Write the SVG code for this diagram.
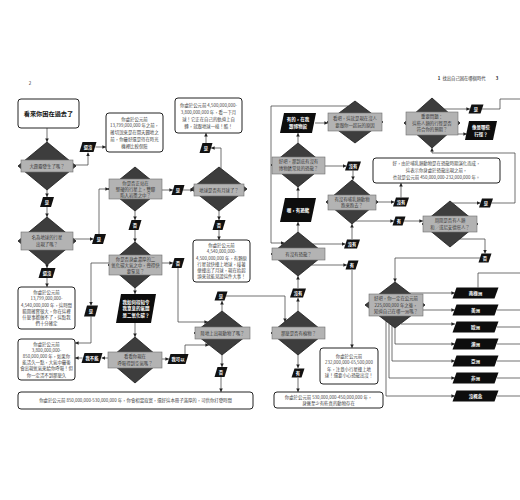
<svg xmlns="http://www.w3.org/2000/svg" width="520" height="500" viewBox="0 0 520 500">
<defs>
<marker id="ah" viewBox="0 0 10 10" refX="10" refY="5" markerWidth="3.6" markerHeight="3.6" markerUnits="userSpaceOnUse" orient="auto"><path d="M0,0 L10,5 L0,10 z" fill="#222"/></marker>
<style>
text{font-family:"Noto Sans CJK TC","Noto Sans CJK SC",sans-serif;text-anchor:middle}
.box{fill:#fff;stroke:#222;stroke-width:1}
.bt{font-size:4.4px;fill:#444}
.dia{fill:#3d3d3d;stroke:#1a1a1a;stroke-width:0.8}
.lab{fill:#b3b3b3;stroke:#6e6e6e;stroke-width:0.6}
.lt{font-size:4.4px;fill:#3a3a3a}
.tag{fill:#111}
.tt{font-size:4.3px;fill:#fff;font-weight:bold}
.par{fill:#0d0d0d}
.pt{font-size:4.5px;fill:#fff;font-weight:bold}
.ln{fill:none;stroke:#333;stroke-width:0.7;marker-end:url(#ah)}
.pl{fill:none;stroke:#333;stroke-width:0.7}
</style>
</defs>
<rect width="520" height="500" fill="#fff"/>
<text x="30" y="85" style="font-size:4.5px;fill:#333">2</text>
<text x="439" y="80" style="font-size:4.3px;fill:#222;font-weight:bold">1</text>
<text x="464" y="80" style="font-size:4.3px;fill:#333">找出自己困在哪個時代</text>
<text x="497" y="80" style="font-size:4.3px;fill:#222;font-weight:bold">3</text>

<g id="connectors">
<path class="ln" d="M47,128 V142"/>
<path class="ln" d="M73,165 H88 V152.5"/>
<path class="ln" d="M95.5,147 H106"/>
<path class="ln" d="M47,190 V197"/>
<path class="ln" d="M47,207 V217"/>
<path class="ln" d="M73,239 H93.5"/>
<path class="ln" d="M99,234 V189 H109"/>
<path class="ln" d="M47,265 V268"/>
<path class="ln" d="M47,278 V287"/>
<path class="ln" d="M162,190 H173"/>
<path class="ln" d="M183,190 H194"/>
<path class="ln" d="M221,168.6 V148 H211"/>
<path class="ln" d="M206,143 V133"/>
<path class="ln" d="M219,211 V220"/>
<path class="ln" d="M219,230 V240"/>
<path class="ln" d="M135,211 V220"/>
<path class="ln" d="M135,230 V242"/>
<path class="ln" d="M109,263 H91 V305.5"/>
<path class="ln" d="M91,316.5 V343 H75"/>
<path class="ln" d="M162,263 H173"/>
<path class="ln" d="M178,268 V322 H208"/>
<path class="ln" d="M135,288 V294"/>
<path class="ln" d="M135,323 V337"/>
<path class="ln" d="M108,358 H101.5"/>
<path class="ln" d="M82.5,358 H75"/>
<path class="ln" d="M162,359 H169"/>
<path class="ln" d="M185,354 V345 H209"/>
<path class="ln" d="M222,311 V301"/>
<path class="ln" d="M226,296 H285 V322"/>
<path class="ln" d="M222,355 V367"/>
<path class="ln" d="M221,377 V392"/>
<path class="ln" d="M348,106 H271 V243 H284.5"/>
<path class="ln" d="M315,123 H328"/>
<path class="ln" d="M298,143 V133"/>
<path class="ln" d="M325,166 H346.5"/>
<path class="ln" d="M353,170.5 V180"/>
<path class="ln" d="M298,232 V222"/>
<path class="ln" d="M298,198 V187"/>
<path class="ln" d="M312.7,244 H345.5"/>
<path class="ln" d="M352,239 V224"/>
<path class="ln" d="M311.5,265 H347"/>
<path class="ln" d="M352,270 V348"/>
<path class="ln" d="M298,311 V298"/>
<path class="ln" d="M298,288 V276"/>
<path class="ln" d="M298,355 V368"/>
<path class="ln" d="M298,378 V392"/>
<path class="ln" d="M376,202 H394.5"/>
<path class="ln" d="M401,197.5 V183"/>
<path class="ln" d="M355.5,221 H394"/>
<path class="ln" d="M404,221 H423"/>
<path class="ln" d="M452.4,203 H480.5"/>
<path class="ln" d="M491.5,203 H515 V153 H432 V148"/>
<path class="ln" d="M444.3,109 H470"/>
<path class="pl" d="M482,109 H500 V99 H520"/>
<path class="ln" d="M447.7,134 H467"/>
<path class="ln" d="M459.7,239 H485 V253.5"/>
<path class="ln" d="M480,258 H395 V282"/>
<path class="ln" d="M409.3,293 H455"/>
<path class="ln" d="M423,310 H455"/>
<path class="ln" d="M401,324 H455"/>
<path class="ln" d="M395,328 V344 H455"/>
<path class="ln" d="M392,325.7 V361 H455"/>
<path class="ln" d="M389,323.4 V378 H455"/>
<path class="ln" d="M386,321.1 V396 H455"/>
<path class="pl" d="M478,287.5 V273 H520"/>
<path class="pl" d="M497,310 H520"/>
<path class="pl" d="M497,327 H520"/>
<path class="pl" d="M497,344 H520"/>
<path class="pl" d="M497,361 H520"/>
<path class="pl" d="M497,378 H520"/>
<path class="pl" d="M497,396 H520"/>
</g>

<g id="title"><rect class="box" x="18" y="99" width="61" height="29" rx="3"/><text x="48.5" y="115.5" style="font-size:6.2px;font-weight:bold;fill:#111">看來你困在過去了</text></g>

<g id="d1"><polygon class="dia" points="47,142 76,166 47,190 18,166"/><rect class="lab" x="21" y="160" width="52" height="12"/><text class="lt" x="47" y="167.6">大霹靂發生了嗎？</text></g>
<g id="d2"><polygon class="dia" points="47,217 76,241 47,265 18,241"/><rect class="lab" x="21" y="232" width="52" height="18"/><text class="lt" x="47" y="239.3">名為地球的行星</text><text class="lt" x="47" y="245.8">出現了嗎？</text></g>
<g id="d3"><polygon class="dia" points="135,167 162,189 135,211 108,189"/><rect class="lab" x="109" y="179" width="53" height="20"/><text class="lt" x="135.5" y="184.6">你是否正站在</text><text class="lt" x="135.5" y="190.6">堅硬的行星上，雙腳</text><text class="lt" x="135.5" y="196.6">陷入岩漿之中？</text></g>
<g id="d4"><polygon class="dia" points="219,167 247,189 219,211 191,189"/><rect class="lab" x="194" y="184" width="50" height="12"/><text class="lt" x="219" y="191.6">地球是否有月球了？</text></g>
<g id="d5"><polygon class="dia" points="135,242 162,265 135,288 108,265"/><rect class="lab" x="109" y="255" width="53" height="20"/><text class="lt" x="135.5" y="260.6">你是否身處濃厚的二</text><text class="lt" x="135.5" y="266.6">氧化碳大氣之中，覺得快</text><text class="lt" x="135.5" y="272.6">要窒息？</text></g>
<g id="d6"><polygon class="dia" points="222,311 250,333 222,355 194,333"/><rect class="lab" x="195" y="327" width="55" height="12"/><text class="lt" x="222.5" y="334.6">陸地上出現動物了嗎？</text></g>
<g id="d7"><polygon class="dia" points="135,337 162,360 135,383 108,360"/><rect class="lab" x="108" y="352" width="54" height="16"/><text class="lt" x="135" y="358.3">看看你現在</text><text class="lt" x="135" y="364.8">呼吸得到空氣嗎？</text></g>

<g id="boxA"><rect class="box" x="106" y="113" width="57" height="39" rx="3"/><text class="bt" x="134.5" y="120.5">你處於公元前</text><text class="bt" x="134.5" y="127.3">13,799,000,000 年之前，</text><text class="bt" x="134.5" y="134.1">確切說來是在開天闢地之</text><text class="bt" x="134.5" y="140.9">前，你最好還是待在時光</text><text class="bt" x="134.5" y="147.7">機裡比較保險</text></g>
<g id="boxD"><rect class="box" x="175" y="98" width="67" height="35" rx="3"/><text class="bt" x="208.5" y="106.6">你處於公元前 4,500,000,000-</text><text class="bt" x="208.5" y="113.6">3,800,000,000 年，看一下月</text><text class="bt" x="208.5" y="120.6">球！它正在自己的軌道上自</text><text class="bt" x="208.5" y="127.6">轉，就跟地球一樣！酷！</text></g>
<g id="boxB"><rect class="box" x="18" y="287" width="57" height="42" rx="3"/><text class="bt" x="46.5" y="293.9">你處於公元前</text><text class="bt" x="46.5" y="300.2">13,799,000,000-</text><text class="bt" x="46.5" y="306.5">4,540,000,000 年，這時間</text><text class="bt" x="46.5" y="312.8">範圍確實很大，你在這裡</text><text class="bt" x="46.5" y="319.1">什麼事都做不了，這點我</text><text class="bt" x="46.5" y="325.4">們十分確定</text></g>
<g id="boxC"><rect class="box" x="18" y="339" width="57" height="41" rx="3"/><text class="bt" x="46.5" y="345.6">你處於公元前</text><text class="bt" x="46.5" y="351.8">3,800,000,000-</text><text class="bt" x="46.5" y="358">850,000,000 年，如果你</text><text class="bt" x="46.5" y="364.2">能活久一點，大氣中最後</text><text class="bt" x="46.5" y="370.4">會出現氧氣來給你呼吸！但</text><text class="bt" x="46.5" y="376.6">你一定活不到那麼久</text></g>
<g id="boxE"><rect class="box" x="193" y="240" width="57" height="42" rx="3"/><text class="bt" x="221.5" y="246.9">你處於公元前</text><text class="bt" x="221.5" y="253.2">4,540,000,000-</text><text class="bt" x="221.5" y="259.5">4,500,000,000 年，有顆原</text><text class="bt" x="221.5" y="265.8">行星就快撞上地球，接著</text><text class="bt" x="221.5" y="272.1">便撞出了月球，現在抬起</text><text class="bt" x="221.5" y="278.4">頭來就能見證這件大事！</text></g>
<g id="boxF"><rect class="box" x="18" y="392" width="235" height="17" rx="3"/><text class="bt" x="135.5" y="402.1">你處於公元前 850,000,000-530,000,000 年，你會相當寂寞，還好這本冊子滿厚的，可供你打發時間</text></g>

<g id="p1"><polygon class="par" points="121,294 156,294 151,323 116,323"/><text class="pt" x="136" y="303.6">我如何得知令</text><text class="pt" x="136" y="310.1">我窒息的氣體</text><text class="pt" x="136" y="316.6">是二氧化碳？</text></g>

<g id="dK"><polygon class="dia" points="355,101 383,122 355,143 327,122"/><rect class="lab" x="328" y="113" width="54" height="18"/><text class="lt" x="355" y="120.3">看吧，這就是現在沒人</text><text class="lt" x="355" y="126.8">要跟你一起玩的原因</text></g>
<g id="d9"><polygon class="dia" points="298,143 325,165 298,187 271,165"/><rect class="lab" x="272" y="157" width="53" height="17"/><text class="lt" x="298.5" y="163.3">好吧，那到底有沒有</text><text class="lt" x="298.5" y="169.8">博物館常見的恐龍？</text></g>
<g id="d10"><polygon class="dia" points="352,180 378,202 352,224 326,202"/><rect class="lab" x="328" y="195" width="48" height="15"/><text class="lt" x="352" y="200.8">有沒有哺乳類動物</text><text class="lt" x="352" y="207.3">跑來跑去？</text></g>
<g id="d13"><polygon class="dia" points="298,232 325,254 298,276 271,254"/><rect class="lab" x="272" y="248" width="53" height="12"/><text class="lt" x="298.5" y="255.6">有沒有恐龍？</text></g>
<g id="d8"><polygon class="dia" points="298,311 325,333 298,355 271,333"/><rect class="lab" x="272" y="327" width="53" height="12"/><text class="lt" x="298.5" y="334.6">那麼是否有植物？</text></g>
<g id="dQ"><polygon class="dia" points="432,98 460,123 432,148 404,123"/><rect class="lab" x="406" y="112" width="52" height="23"/><text class="lt" x="432" y="118.1">重要問題：</text><text class="lt" x="432" y="124.6">這些人類的行徑是否</text><text class="lt" x="432" y="131.1">符合你的預期？</text></g>
<g id="d11"><polygon class="dia" points="450,201 478,224 450,247 422,224"/><rect class="lab" x="423" y="216" width="54" height="16"/><text class="lt" x="450" y="222.3">周圍是否有人類</text><text class="lt" x="450" y="228.8">和／或尼安德塔人？</text></g>
<g id="d12"><polygon class="dia" points="395,282 425,305 395,328 365,305"/><rect class="lab" x="369" y="294" width="54" height="22"/><text class="lt" x="396" y="300.1">好吧，你一定在公元前</text><text class="lt" x="396" y="306.6">225,000,000 年之後，</text><text class="lt" x="396" y="313.1">知道自己在哪一洲嗎？</text></g>

<g id="boxI"><rect class="box" x="373" y="158" width="127" height="25" rx="3"/><text class="bt" x="436.5" y="165.4">好，由於哺乳類動物是在恐龍時期演化而成，</text><text class="bt" x="436.5" y="172.1">這表示你身處於恐龍出現之前，</text><text class="bt" x="436.5" y="178.8">也就是公元前 450,000,000-232,000,000 年。</text></g>
<g id="boxH"><rect class="box" x="320" y="348" width="58" height="36" rx="3"/><text class="bt" x="349" y="357.9">你處於公元前</text><text class="bt" x="349" y="364.4">232,000,000-65,500,000</text><text class="bt" x="349" y="370.9">年，注意小行星撞上地</text><text class="bt" x="349" y="377.4">球！還要小心恐龍出沒！</text></g>
<g id="boxG"><rect class="box" x="274" y="392" width="109" height="16" rx="3"/><text class="bt" x="328.5" y="398.6">你處於公元前 530,000,000-450,000,000 年，</text><text class="bt" x="328.5" y="404.6">身邊至少有些真的動物存在</text></g>

<g id="p2"><polygon class="par" points="284,113 316,113 312,133 280,133"/><text class="pt" x="298" y="121.4">有的，在我</text><text class="pt" x="298" y="127.9">跟博物館</text></g>
<g id="p3"><polygon class="par" points="285,198 316,198 311,222 280,222"/><text class="pt" x="298" y="211.6">喔，有恐龍</text></g>
<g id="p4"><polygon class="par" points="469,121 497,121 493,140 465,140"/><text class="pt" x="481" y="129">像是哪些</text><text class="pt" x="481" y="135.5">行徑？</text></g>

<g id="continents">
<g id="c1"><polygon class="par" points="456.5,287.5 498.5,287.5 494.5,298.5 452.5,298.5"/><text class="pt" x="475.5" y="294.6">南極洲</text></g>
<g id="c2"><polygon class="par" points="456.5,304.5 498.5,304.5 494.5,315.5 452.5,315.5"/><text class="pt" x="475.5" y="311.6">美洲</text></g>
<g id="c3"><polygon class="par" points="456.5,321.5 498.5,321.5 494.5,332.5 452.5,332.5"/><text class="pt" x="475.5" y="328.6">歐洲</text></g>
<g id="c4"><polygon class="par" points="456.5,338.5 498.5,338.5 494.5,349.5 452.5,349.5"/><text class="pt" x="475.5" y="345.6">澳洲</text></g>
<g id="c5"><polygon class="par" points="456.5,355.5 498.5,355.5 494.5,366.5 452.5,366.5"/><text class="pt" x="475.5" y="362.6">亞洲</text></g>
<g id="c6"><polygon class="par" points="456.5,372.5 498.5,372.5 494.5,383.5 452.5,383.5"/><text class="pt" x="475.5" y="379.6">非洲</text></g>
<g id="c7"><polygon class="par" points="456.5,390.5 498.5,390.5 494.5,401.5 452.5,401.5"/><text class="pt" x="475.5" y="397.6">沒概念</text></g>
</g>

<g id="tags">
<g><polygon class="tag" points="82.5,142 96.5,142 93.5,152 79.5,152"/><text class="tt" x="88" y="148.5">還沒</text></g>
<g><polygon class="tag" points="43,197 54,197 51,207 40,207"/><text class="tt" x="47" y="203.5">是</text></g>
<g><polygon class="tag" points="95,234 106,234 103,244 92,244"/><text class="tt" x="99" y="240.5">是</text></g>
<g><polygon class="tag" points="41.5,268 55.5,268 52.5,278 38.5,278"/><text class="tt" x="47" y="274.5">還沒</text></g>
<g><polygon class="tag" points="174.5,185 184.5,185 181.5,195 171.5,195"/><text class="tt" x="178" y="191.5">是</text></g>
<g><polygon class="tag" points="202.5,143 212.5,143 209.5,153 199.5,153"/><text class="tt" x="206" y="149.5">是</text></g>
<g><polygon class="tag" points="215.5,220 225.5,220 222.5,230 212.5,230"/><text class="tt" x="219" y="226.5">否</text></g>
<g><polygon class="tag" points="131.5,220 141.5,220 138.5,230 128.5,230"/><text class="tt" x="135" y="226.5">否</text></g>
<g><polygon class="tag" points="87,305.5 98,305.5 95,316.5 84,316.5"/><text class="tt" x="91" y="312.5">是</text></g>
<g><polygon class="tag" points="174.5,258 184.5,258 181.5,268 171.5,268"/><text class="tt" x="178" y="264.5">否</text></g>
<g><polygon class="tag" points="84.5,353 102.5,353 99.5,363 81.5,363"/><text class="tt" x="92" y="359.5">我不能</text></g>
<g><polygon class="tag" points="170.5,354 188.5,354 185.5,364 167.5,364"/><text class="tt" x="178" y="360.5">我可以</text></g>
<g><polygon class="tag" points="217.5,291.5 227.5,291.5 224.5,300.5 214.5,300.5"/><text class="tt" x="221" y="297.5">是</text></g>
<g><polygon class="tag" points="217.5,367 227.5,367 224.5,377 214.5,377"/><text class="tt" x="221" y="373.5">否</text></g>
<g><polygon class="tag" points="348,161.5 361,161.5 358,170.5 345,170.5"/><text class="tt" x="353" y="167.5">沒有</text></g>
<g><polygon class="tag" points="347,239.5 360,239.5 357,248.5 344,248.5"/><text class="tt" x="352" y="245.5">沒有</text></g>
<g><polygon class="tag" points="348.5,260.5 358.5,260.5 355.5,269.5 345.5,269.5"/><text class="tt" x="352" y="266.5">有</text></g>
<g><polygon class="tag" points="293,288.5 306,288.5 303,297.5 290,297.5"/><text class="tt" x="298" y="294.5">沒有</text></g>
<g><polygon class="tag" points="294.5,368.5 304.5,368.5 301.5,377.5 291.5,377.5"/><text class="tt" x="298" y="374.5">有</text></g>
<g><polygon class="tag" points="396,197.5 409,197.5 406,206.5 393,206.5"/><text class="tt" x="401" y="203.5">沒有</text></g>
<g><polygon class="tag" points="395.5,216.5 405.5,216.5 402.5,225.5 392.5,225.5"/><text class="tt" x="399" y="222.5">有</text></g>
<g><polygon class="tag" points="471.5,104.5 483.5,104.5 480.5,113.5 468.5,113.5"/><text class="tt" x="476" y="110.5">是</text></g>
<g><polygon class="tag" points="482,198.5 493,198.5 490,207.5 479,207.5"/><text class="tt" x="486" y="204.5">是</text></g>
<g><polygon class="tag" points="481.5,253.5 491.5,253.5 488.5,262.5 478.5,262.5"/><text class="tt" x="485" y="259.5">否</text></g>
</g>
</svg>
